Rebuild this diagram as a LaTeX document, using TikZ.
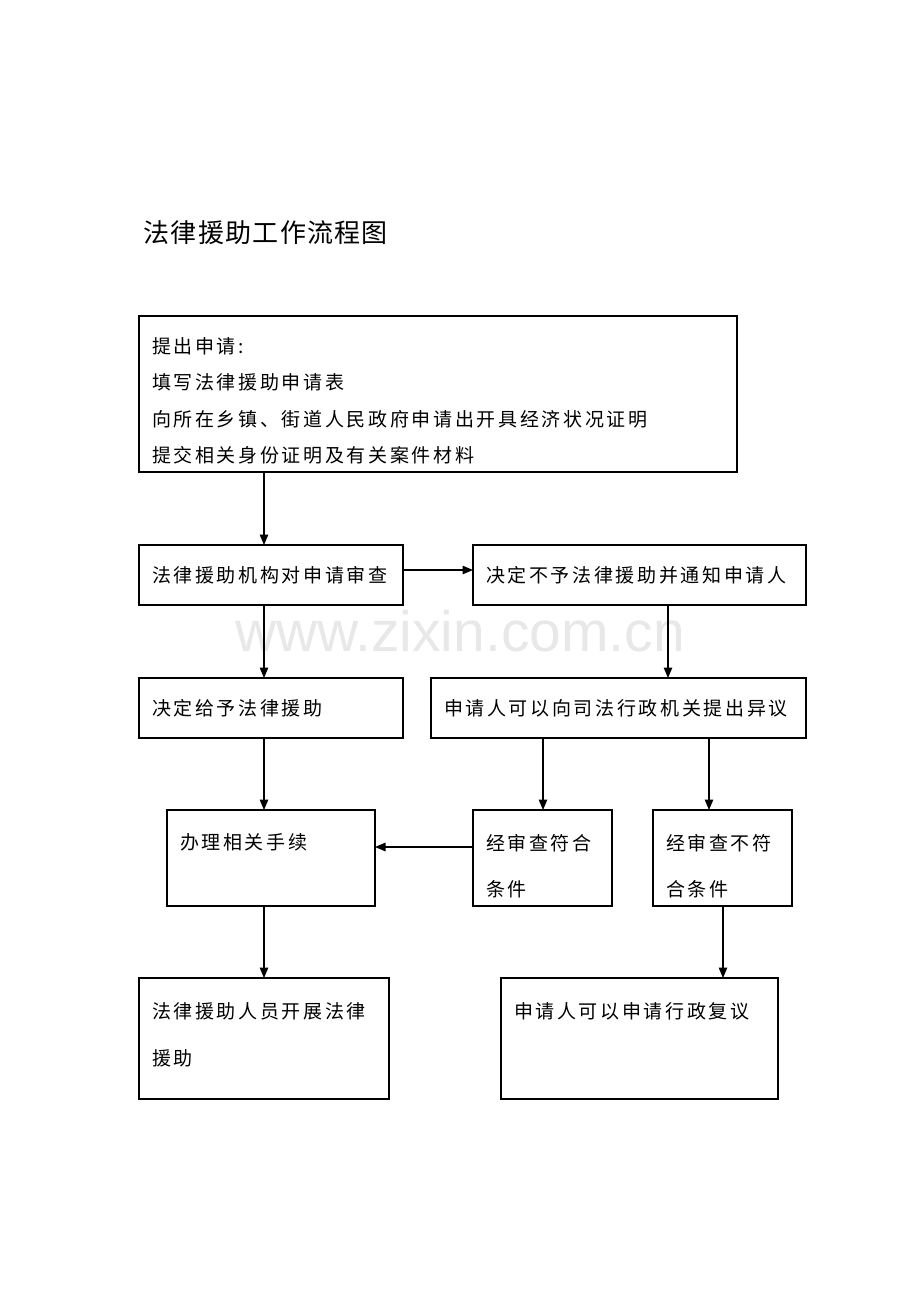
\documentclass[tikz,border=0pt]{standalone}
\usepackage{fontspec}
\setmainfont{Noto Sans CJK SC}
\newfontfamily\boxfont{Noto Sans CJK SC}[LetterSpace=14]
\newfontfamily\titlefont{Noto Sans CJK SC}[LetterSpace=5]
\newfontfamily\wmfont{Liberation Sans}
\usetikzlibrary{positioning, arrows.meta}

\begin{document}
\begin{tikzpicture}[x=1pt, y=-1pt]
\tikzstyle{box} = [draw=black, line width=1.1pt, outer sep=0pt, inner xsep=13pt, inner ysep=0pt, align=left, font=\boxfont\fontsize{19pt}{36.5pt}\selectfont]
\tikzstyle{edge} = [-{Triangle[length=10.5pt, width=8.5pt]}, line width=1.2pt]

\useasboundingbox (0,0) rectangle (920,1302);

% 标题与水印
\node[anchor=west, font=\titlefont\fontsize{26pt}{30pt}\selectfont] (title) at (140,233) {法律援助工作流程图};
\node[anchor=base, font=\wmfont\fontsize{57pt}{60pt}\selectfont, text=gray!18] (wm) at (460,651) {www.zixin.com.cn};

% 方框
\node[box, text width=572pt, text height=37pt, text depth=119pt, anchor=north west] (b1) at (139,316) {提出申请:\\填写法律援助申请表\\向所在乡镇、街道人民政府申请出开具经济状况证明\\提交相关身份证明及有关案件材料};
\node[box, text width=238pt, text height=37pt, text depth=23pt] (b2) [below=73pt of b1.south west, anchor=north west] {法律援助机构对申请审查};
\node[box, text width=307pt, text height=37pt, text depth=23pt] (b3) [right=70pt of b2] {决定不予法律援助并通知申请人};
\node[box, text width=238pt, text height=37pt, text depth=23pt] (b4) [below=73pt of b2] {决定给予法律援助};
\node[box, text width=349pt, text height=37pt, text depth=23pt] (b5) [below=73pt of b3.south east, anchor=north east] {申请人可以向司法行政机关提出异议};
\node[box, text width=182pt, text height=39pt, text depth=57pt] (b6) [below=72pt of b4] {办理相关手续};
\node[box, text width=113pt, text height=40pt, text depth=56pt] (b7) [right=98pt of b6.north east, anchor=north west] {经审查符合\\[10pt]条件};
\node[box, text width=113pt, text height=40pt, text depth=56pt] (b8) [right=41pt of b7] {经审查不符\\[10pt]合条件};
\node[box, text width=224pt, text height=40pt, text depth=81pt] (b9) [below=240pt of b4.south west, anchor=north west] {法律援助人员开展法律\\[11pt]援助};
\node[box, text width=251pt, text height=40pt, text depth=81pt] (b10) [right=112pt of b9.north east, anchor=north west] {申请人可以申请行政复议};

% 箭头
\coordinate (c35) at ([xshift=-138pt]b3.south east);
\coordinate (c58) at ([xshift=-97pt]b5.south east);
\coordinate (c57) at ([xshift=0.5pt]b7.north);
\coordinate (c810) at ([xshift=0.5pt]b8.south);
\coordinate (c76) at ([yshift=11pt]b7.west);
\coordinate (c23) at ([yshift=5pt]b2.east);

\draw[edge] (b1.south -| b9.north) -- (b2.north -| b9.north);
\draw[edge] (c23) -- (c23 -| b3.west);
\draw[edge] (b2.south -| b9.north) -- (b4.north -| b9.north);
\draw[edge] (c35) -- (c35 |- b5.north);
\draw[edge] (b4.south -| b9.north) -- (b6.north -| b9.north);
\draw[edge] (b5.south -| c57) -- (c57);
\draw[edge] (c58) -- (c58 |- b8.north);
\draw[edge] (c76) -- (c76 -| b6.east);
\draw[edge] (b6.south -| b9.north) -- (b9.north);
\draw[edge] (c810) -- (c810 |- b10.north);

\end{tikzpicture}
\end{document}
